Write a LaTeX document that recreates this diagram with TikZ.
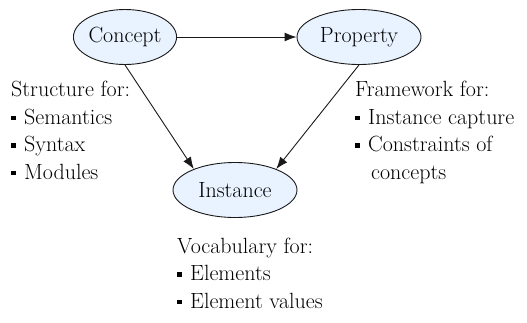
\documentclass[tikz,border=0pt]{standalone}
\usetikzlibrary{shapes.geometric,arrows.meta}
\definecolor{nodefill}{RGB}{232,243,255}
\definecolor{edgecol}{RGB}{25,25,25}
\newcommand{\bul}{\makebox[13pt][l]{\rule[3.8pt]{4.5pt}{4.5pt}}}
\begin{document}
\begin{tikzpicture}[x=1pt,y=-1pt,
  ent/.style={ellipse,draw=edgecol,line width=0.9pt,fill=nodefill,minimum height=55pt,inner sep=0pt,font=\fontsize{22}{27.5}\selectfont},
  link/.style={draw=edgecol,line width=0.9pt,-{Latex[length=12pt,width=9pt]}},
  note/.style={align=left,inner sep=0pt,anchor=base west,font=\fontsize{22}{27.5}\selectfont}]
\useasboundingbox (0,0) rectangle (527,322);
\node[ent,minimum width=97pt] (C) at (125,37) {Concept};
\node[ent,minimum width=124pt] (P) at (359,37) {Property};
\node[ent,minimum width=124pt] (I) at (235,190) {Instance};
\draw[link] (C) -- (P);
\draw[link] (C.south) -- (I.153);
\draw[link] (P.south) -- (I.27);
\node[note] (S) at (11,179) {Structure for:\\\bul Semantics\\\bul Syntax\\\bul Modules};
\node[note] (F) at (355,179) {Framework for:\\\bul Instance capture\\\bul Constraints of\\\hspace*{16pt}concepts};
\node[note] (V) at (177,308) {Vocabulary for:\\\bul Elements\\\bul Element values};
\end{tikzpicture}
\end{document}
